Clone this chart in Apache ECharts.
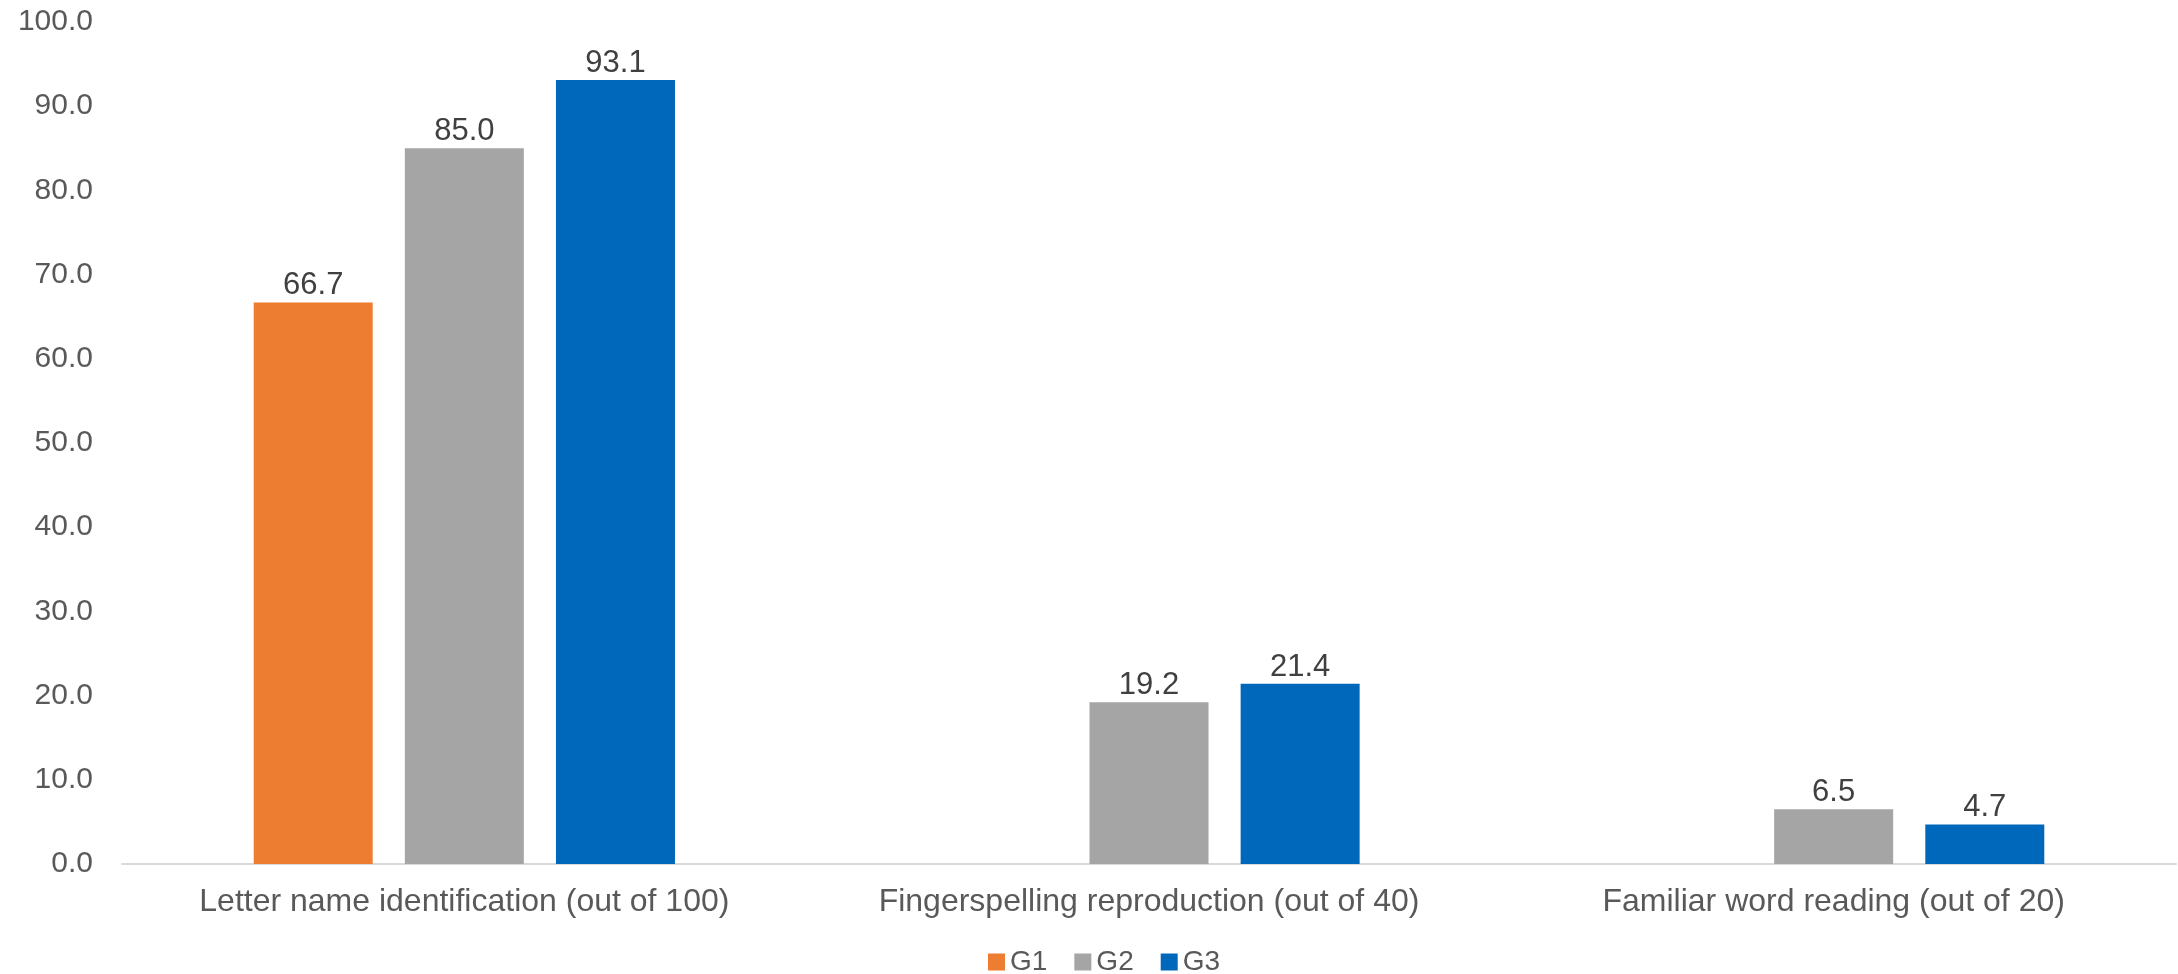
<!DOCTYPE html>
<html>
<head>
<meta charset="utf-8">
<script src="https://cdn.jsdelivr.net/npm/echarts@6/dist/echarts.min.js"></script>
<style>
  html, body { margin: 0; padding: 0; background: #fff; }
  #chart { width: 2178px; height: 974px; }
</style>
</head>
<body>
<div id="chart"></div>
<script>
const categories = [
    'Letter name identification (out of 100)',
    'Fingerspelling reproduction (out of 40)',
    'Familiar word reading (out of 20)'
];
const groupNames = ['G1', 'G2', 'G3'];
const g1Values = [66.7, null, null];
const g2Values = [85.0, 19.2, 6.5];
const g3Values = [93.1, 21.4, 4.7];
const groupColors = ['#ED7D31', '#A5A5A5', '#0068BA'];

const font = '"Liberation Sans", Arial, sans-serif';

const chart = echarts.init(document.getElementById('chart'));

const makeSeries = (name, values, color) => ({
    name: name,
    type: 'bar',
    data: values,
    barWidth: 119,
    barGap: '27%',
    itemStyle: { color: color },
    label: {
        show: true,
        position: 'top',
        distance: 1,
        color: '#404040',
        fontSize: 31,
        fontFamily: font,
        formatter: p => (p.value == null ? '' : Number(p.value).toFixed(1))
    }
});

const option = {
    backgroundColor: '#ffffff',
    animation: false,
    grid: {
        left: 122,
        right: 2,
        top: 22,
        bottom: 110
    },
    legend: {
        data: groupNames,
        left: 983,
        top: 943,
        icon: 'rect',
        itemWidth: 17,
        itemHeight: 17,
        itemGap: 27,
        textStyle: { color: '#595959', fontSize: 28, fontFamily: font }
    },
    xAxis: {
        type: 'category',
        data: categories,
        axisLine: { lineStyle: { color: '#D9D9D9', width: 2 } },
        axisTick: { show: false },
        axisLabel: {
            color: '#595959',
            fontSize: 32,
            fontFamily: font,
            margin: 22,
            interval: 0
        }
    },
    yAxis: {
        type: 'value',
        min: 0,
        max: 100,
        interval: 10,
        axisLine: { show: false },
        axisTick: { show: false },
        splitLine: { show: false },
        axisLabel: {
            color: '#595959',
            fontSize: 30,
            fontFamily: font,
            margin: 29,
            formatter: v => v.toFixed(1)
        }
    },
    series: [
        makeSeries(groupNames[0], g1Values, groupColors[0]),
        makeSeries(groupNames[1], g2Values, groupColors[1]),
        makeSeries(groupNames[2], g3Values, groupColors[2])
    ]
};

chart.setOption(option);
</script>
</body>
</html>
